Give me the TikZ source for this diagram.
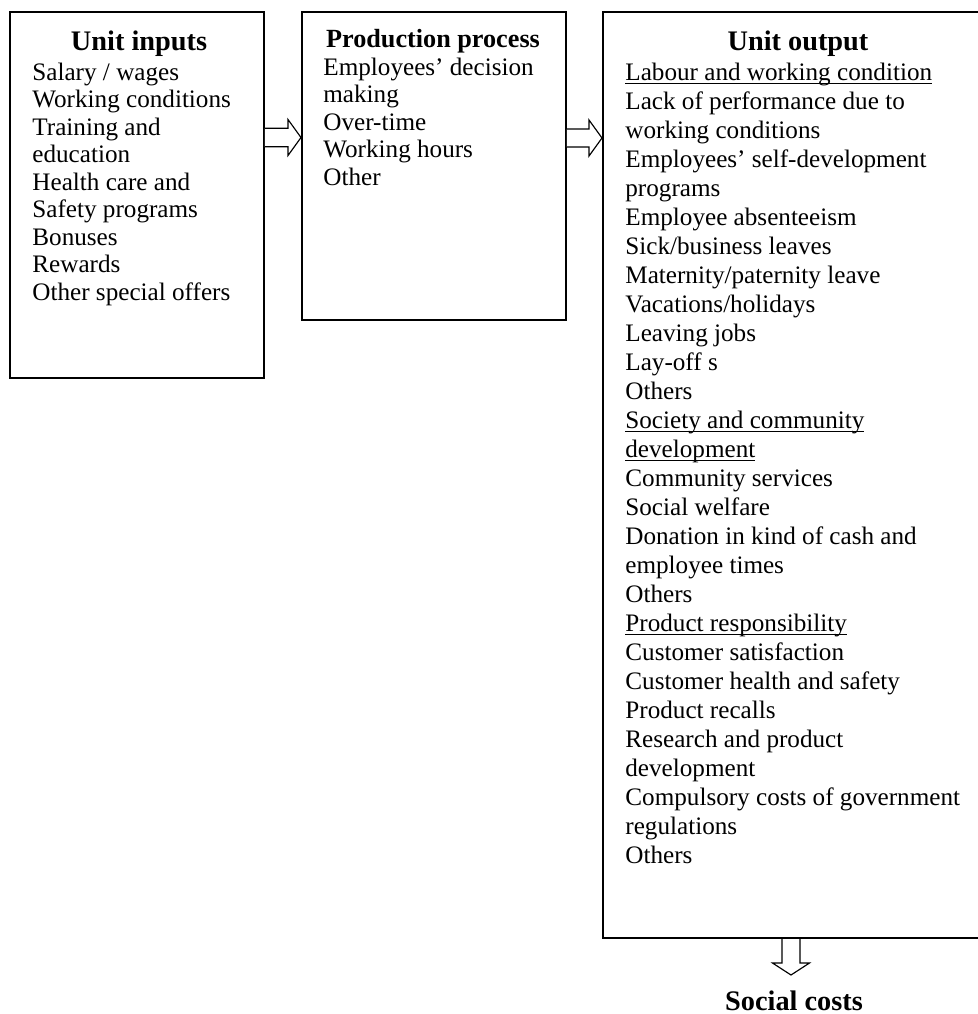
\documentclass[tikz,border=0pt]{standalone}
\usepackage{fontspec}
\setmainfont{Liberation Serif}
\usetikzlibrary{fit,calc}
\newcommand\myul[1]{\setbox0=\hbox{#1}\rlap{\rule[-1.7pt]{\wd0}{0.55pt}}\box0}
\newcommand\firststrut{\rule{0pt}{9pt}}
\begin{document}
\begin{tikzpicture}[x=0.477pt,y=-0.477pt,
  box/.style={draw, line width=0.95pt, inner sep=0pt},
  title/.style={anchor=base, inner sep=0pt, font=\fontsize{13.5}{15}\selectfont\bfseries},
  subtitle/.style={anchor=base, inner sep=0pt, font=\fontsize{12.5}{14}\selectfont\bfseries},
  bodyA/.style={anchor=north west, align=left, inner sep=0pt, font=\fontsize{12}{13.1}\selectfont},
  bodyB/.style={anchor=north west, align=left, inner sep=0pt, font=\fontsize{12}{13.83}\selectfont},
  blockarrow/.style={draw, fill=white, line width=0.55pt, line join=miter}]
\useasboundingbox (0,0) rectangle (978,1014);

% boxes
\node[box, fit={(10,12) (264,378)}] (b1) {};
\node[box, fit={(302,12) (566,320)}] (b2) {};
\node[box, fit={(603,12) (993,938)}] (b3) {};

% titles
\node[title] (t1) at (139,50) {Unit inputs};
\node[subtitle] (t2) at (433,47) {Production process};
\node[title] (t3) at (798,50) {Unit output};

% bodies
\node[bodyA] (x1) at (32,61) {\firststrut Salary / wages\\
Working conditions\\
Training and\\
education\\
Health care and\\
Safety programs\\
Bonuses\\
Rewards\\
Other special offers};

\node[bodyA] (x2) at (323,56) {\firststrut Employees’ decision\\
making\\
Over-time\\
Working hours\\
Other};

\node[bodyB] (x3) at (625,61) {\firststrut\myul{Labour and working condition}\\
Lack of performance due to\\
working conditions\\
Employees’ self-development\\
programs\\
Employee absenteeism\\
Sick/business leaves\\
Maternity/paternity leave\\
Vacations/holidays\\
Leaving jobs\\
Lay-off s\\
Others\\
\myul{Society and community}\\
\myul{development}\\
Community services\\
Social welfare\\
Donation in kind of cash and\\
employee times\\
Others\\
\myul{Product responsibility}\\
Customer satisfaction\\
Customer health and safety\\
Product recalls\\
Research and product\\
development\\
Compulsory costs of government\\
regulations\\
Others};

% result
\node[title] (sc) at (794,1010) {Social costs};

% arrow 1: b1 -> b2
\coordinate (a1s) at ($(b1.north east)+(0,126.5)$);
\coordinate (a1e) at ($(b2.north west)+(0,126.5)$);
\draw[blockarrow] ($(a1s)+(0,-9.3)$) -- ($(a1e)+(-13,-9.3)$) -- ($(a1e)+(-13,-18)$)
  -- (a1e) -- ($(a1e)+(-13,18)$) -- ($(a1e)+(-13,9.3)$) -- ($(a1s)+(0,9.3)$);

% arrow 2: b2 -> b3
\coordinate (a2s) at ($(b2.north east)+(0,127)$);
\coordinate (a2e) at ($(b3.north west)+(0,127)$);
\draw[blockarrow] ($(a2s)+(0,-9)$) -- ($(a2e)+(-13,-9)$) -- ($(a2e)+(-13,-18)$)
  -- (a2e) -- ($(a2e)+(-13,18)$) -- ($(a2e)+(-13,9)$) -- ($(a2s)+(0,9)$);

% arrow 3: b3 -> social costs
\coordinate (a3s) at ($(b3.south)+(-7,0)$);
\coordinate (a3e) at ($(a3s)+(0,36)$);
\draw[blockarrow] ($(a3s)+(-9,0)$) -- ($(a3e)+(-9,-12)$) -- ($(a3e)+(-18.5,-12)$)
  -- (a3e) -- ($(a3e)+(18.5,-12)$) -- ($(a3e)+(9,-12)$) -- ($(a3s)+(9,0)$);
\end{tikzpicture}
\end{document}
